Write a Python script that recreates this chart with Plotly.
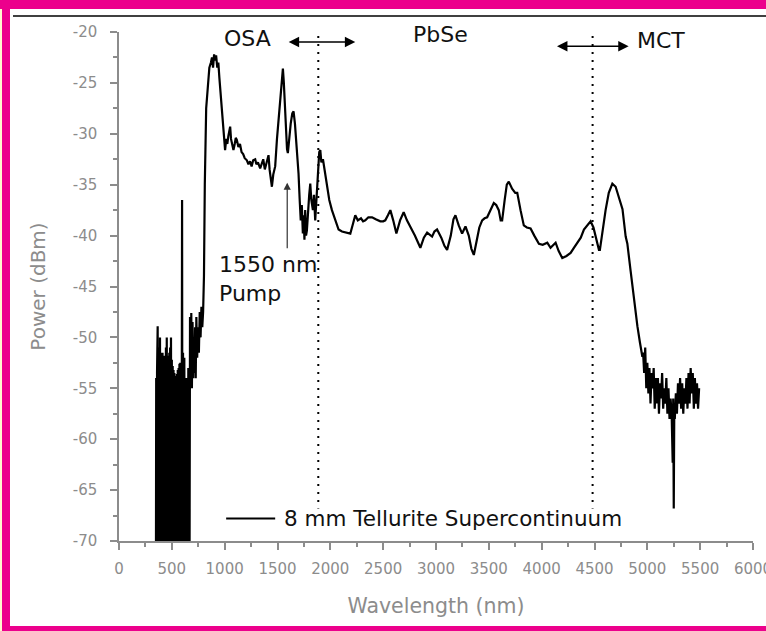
import plotly.graph_objects as go

# ---------------- data ----------------
wavelength_nm = [
    350, 352, 356, 360, 364, 366, 369, 372, 376, 380, 384, 388, 392, 396, 400, 404, 408, 412, 416, 420,
    424, 428, 432, 436, 440, 444, 448, 452, 456, 460, 464, 468, 472, 476, 480, 484, 488, 492, 496, 500,
    504, 508, 512, 516, 520, 524, 528, 532, 536, 540, 544, 548, 552, 556, 560, 564, 568, 572, 576, 580,
    584, 588, 592, 597, 600, 606, 612, 618, 624, 632, 636, 640, 650, 656, 662, 668, 672, 678, 684, 690,
    696, 702, 708, 714, 720, 726, 732, 740, 748, 756, 764, 772, 780, 788, 796, 804, 812, 825, 840, 855,
    870, 880, 890, 900, 910, 919, 930, 940, 950, 960, 973, 985, 995, 1004, 1015, 1025, 1035, 1045, 1052, 1060,
    1070, 1083, 1095, 1105, 1115, 1130, 1145, 1160, 1175, 1190, 1210, 1225, 1240, 1255, 1270, 1289, 1300, 1315, 1336, 1350,
    1365, 1380, 1395, 1415, 1425, 1435, 1447, 1460, 1478, 1495, 1510, 1525, 1540, 1551, 1560, 1570, 1580, 1590, 1598, 1610,
    1625, 1640, 1652, 1665, 1680, 1699, 1710, 1720, 1730, 1740, 1747, 1755, 1762, 1770, 1778, 1790, 1800, 1810, 1820, 1835,
    1845, 1857, 1870, 1880, 1895, 1905, 1915, 1930, 1945, 1968, 1990, 2015, 2045, 2078, 2110, 2150, 2189, 2210, 2236, 2260,
    2290, 2310, 2331, 2360, 2395, 2430, 2473, 2500, 2520, 2545, 2568, 2595, 2625, 2660, 2694, 2725, 2758, 2800, 2852, 2885,
    2916, 2940, 2963, 2985, 3010, 3050, 3080, 3105, 3140, 3165, 3184, 3215, 3247, 3279, 3310, 3335, 3358, 3385, 3410, 3437,
    3460, 3484, 3515, 3547, 3570, 3594, 3612, 3626, 3650, 3670, 3689, 3720, 3750, 3769, 3800, 3831, 3860, 3895, 3930, 3974,
    4010, 4053, 4084, 4110, 4132, 4160, 4195, 4235, 4274, 4305, 4337, 4370, 4400, 4430, 4463, 4490, 4515, 4542, 4551, 4575,
    4605, 4635, 4669, 4700, 4732, 4765, 4795, 4811, 4842, 4858, 4880, 4906, 4930, 4953, 4960, 4970, 4980, 4990, 5000, 5010,
    5020, 5030, 5040, 5050, 5060, 5070, 5080, 5090, 5100, 5110, 5120, 5130, 5140, 5150, 5160, 5170, 5180, 5190, 5200, 5210,
    5220, 5230, 5240, 5245, 5250, 5255, 5260, 5270, 5280, 5290, 5300, 5310, 5320, 5330, 5340, 5350, 5360, 5370, 5380, 5390,
    5400, 5410, 5420, 5430, 5440, 5450, 5460, 5470, 5480, 5490,
]
power_dbm = [
    -70, -54, -70, -53.5, -70, -48.9, -70, -51, -70, -51.5, -70, -50, -70, -51.5, -70, -52, -70, -51.5, -70, -52,
    -70, -51.8, -70, -52.2, -70, -51, -70, -50, -70, -51.8, -70, -52, -70, -51.5, -70, -51, -70, -50, -70, -52.2,
    -70, -52.8, -70, -53.2, -70, -53.5, -70, -53.8, -70, -54, -70, -53.6, -70, -53.2, -70, -53, -70, -52.6, -70, -52.5,
    -70, -52.8, -70, -36.5, -70, -51.5, -70, -52, -70, -70, -54, -70, -70, -53, -70, -70, -48, -55, -47.6, -55,
    -48.5, -54, -50, -53.5, -49, -54, -48, -52, -49, -51.5, -47.5, -50, -47, -49, -47.5, -44, -35, -27.5, -25.5, -23.5,
    -23, -22.5, -23.5, -22.2, -22.8, -22.3, -23.5, -23, -24.5, -26, -27.3, -29.5, -31.2, -31.6, -30.5, -31, -30.2, -29.5, -29.3, -30.5,
    -31, -31.6, -31, -30.4, -30.6, -31.3, -31, -31.8, -32, -32.4, -32.6, -33, -32.7, -33.2, -32.6, -32.5, -33, -32.8, -33.4, -33,
    -32.5, -33.5, -33, -32.1, -33.5, -34.5, -35.2, -34, -33.2, -30.5, -28.5, -27, -24.5, -23.6, -25, -27.5, -30, -31.5, -31.9, -30.5,
    -29, -28, -27.8, -29, -31, -33.9, -36.5, -38.5, -37, -39.8, -38, -40.4, -37.5, -40, -39.5, -37, -36, -34.9, -36.5, -37.5,
    -36, -38.5, -36, -33.5, -31.8, -31.6, -32.8, -32.5, -33.5, -35.5, -36.5, -37.5, -38.5, -39.4, -39.6, -39.7, -39.8, -39, -38, -38.5,
    -38.3, -38.6, -38.5, -38.2, -38.2, -38.4, -38.6, -38.6, -38.5, -38, -37.5, -38.5, -39.8, -38.5, -37.7, -38.5, -39.1, -40, -41.2, -40.2,
    -39.7, -39.9, -40.1, -39.6, -39.4, -40.2, -41, -41.4, -40, -38.4, -38, -39, -39.8, -39.1, -40, -41.3, -41.9, -40.5, -39.2, -38.5,
    -38.3, -38.2, -37.5, -36.8, -37, -37.5, -38.5, -38.5, -36.5, -35, -34.7, -35.4, -35.8, -35.8, -37.5, -39, -39.2, -39.3, -40, -40.8,
    -40.9, -40.7, -41.2, -40.9, -40.7, -41.5, -42.2, -42, -41.7, -41.2, -40.7, -40.2, -39.4, -39, -38.6, -39.2, -40.3, -41.4, -41.4, -39.5,
    -37.5, -35.8, -34.9, -35.2, -36.2, -37.4, -40.1, -40.8, -43.5, -45, -47, -48.9, -50.5, -51.9, -51.5, -53.5, -51, -55, -52.5, -55.5,
    -53, -56.5, -53.5, -55, -53, -57, -54, -56.5, -54, -57.5, -54.5, -56, -53.5, -57, -55, -56.5, -54, -57.5, -55, -58,
    -56, -57.5, -62.3, -56, -66.8, -57, -58, -55.5, -57.5, -54.5, -56.5, -54, -57, -54.5, -57.5, -55, -56.5, -54, -57, -53.5,
    -56.5, -53, -55.5, -53.5, -57, -54, -56.5, -54.5, -57, -55,
]

x_tick_vals = [0, 500, 1000, 1500, 2000, 2500, 3000, 3500, 4000, 4500, 5000, 5500, 6000]
x_tick_text = ["0", "500", "1000", "1500", "2000", "2500", "3000", "3500", "4000", "4500", "5000", "5500", "6000"]
y_tick_vals = [-20, -25, -30, -35, -40, -45, -50, -55, -60, -65, -70]
y_tick_text = ["-20", "-25", "-30", "-35", "-40", "-45", "-50", "-55", "-60", "-65", "-70"]

region_lines_nm = [1886, 4482]
legend_label = "8 mm Tellurite Supercontinuum"

# ---------------- figure ----------------
W, H = 766, 631
ML, MR, MT, MB = 119, 13, 32, 90
PW, PH = W - ML - MR, H - MT - MB


def px(xp):
    return (xp - ML) / PW


def py(yp):
    return (H - MB - yp) / PH


GREY = "#8c8c8c"
FONT = "DejaVu Sans, Liberation Sans, sans-serif"
MAGENTA = "#ec008c"
TXT = "#111111"

fig = go.Figure()
fig.add_trace(go.Scatter(x=wavelength_nm, y=power_dbm, mode="lines",
                         line=dict(color="black", width=2.2), showlegend=False,
                         hoverinfo="skip"))

shapes = []
for xv in region_lines_nm:
    shapes.append(dict(type="line", xref="x", yref="y", x0=xv, x1=xv, y0=-19.6, y1=-66.8,
                       line=dict(color="black", width=2, dash="2px,6px")))
# legend sample line
shapes.append(dict(type="line", xref="x", yref="y", x0=1014, x1=1478, y0=-67.8, y1=-67.8,
                   line=dict(color="black", width=2)))
# page frame
shapes.append(dict(type="rect", xref="paper", yref="paper", x0=px(-5), x1=px(W + 5), y0=py(9), y1=py(-5),
                   fillcolor=MAGENTA, line=dict(width=0), layer="above"))
shapes.append(dict(type="rect", xref="paper", yref="paper", x0=px(2), x1=px(10), y0=py(H + 5), y1=py(-5),
                   fillcolor=MAGENTA, line=dict(width=0), layer="above"))
shapes.append(dict(type="rect", xref="paper", yref="paper", x0=px(-5), x1=px(2), y0=py(H + 5), y1=py(9),
                   fillcolor="#fff8d0", line=dict(width=0), layer="above"))
shapes.append(dict(type="rect", xref="paper", yref="paper", x0=px(2), x1=px(W + 5), y0=py(H + 5), y1=py(626),
                   fillcolor=MAGENTA, line=dict(width=0), layer="above"))
shapes.append(dict(type="line", xref="paper", yref="paper", x0=px(13), x1=px(W + 5), y0=py(16), y1=py(16),
                   line=dict(color="black", width=1.5)))

annotations = [
    dict(x=1213, y=-20.6, text="OSA", showarrow=False, font=dict(size=22, color=TXT, family=FONT)),
    dict(x=3042, y=-20.2, text="PbSe", showarrow=False, font=dict(size=22, color=TXT, family=FONT)),
    dict(x=5127, y=-20.8, text="MCT", showarrow=False, font=dict(size=22, color=TXT, family=FONT)),
    dict(x=2236, y=-20.98, ax=1592, ay=-20.98, axref="x", ayref="y", text="", showarrow=True,
         arrowhead=2, arrowside="end+start", arrowsize=1.3, arrowwidth=1.6, arrowcolor="black"),
    dict(x=4823, y=-21.4, ax=4131, ay=-21.4, axref="x", ayref="y", text="", showarrow=True,
         arrowhead=2, arrowside="end+start", arrowsize=1.3, arrowwidth=1.6, arrowcolor="black"),
    dict(x=1592, y=-34.8, ax=1592, ay=-41.4, axref="x", ayref="y", text="", showarrow=True,
         arrowhead=2, arrowsize=1.2, arrowwidth=1.2, arrowcolor="#333"),
    dict(x=929, y=-44.3, text="1550 nm<br>Pump", showarrow=False, xanchor="left", align="left",
         font=dict(size=22, color=TXT, family=FONT)),
    dict(x=1545, y=-67.8, text=legend_label, showarrow=False, xanchor="left",
         font=dict(size=21.5, color=TXT, family=FONT)),
]

fig.update_layout(
    width=W, height=H,
    margin=dict(l=ML, r=MR, t=MT, b=MB, autoexpand=False),
    paper_bgcolor="white", plot_bgcolor="white",
    shapes=shapes, annotations=annotations,
    font=dict(family=FONT, color=GREY),
)
fig.update_xaxes(range=[0, 6000], tickvals=x_tick_vals, ticktext=x_tick_text, automargin=False,
                 showgrid=False, zeroline=False, showline=True, linecolor=GREY, linewidth=1.5,
                 ticks="outside", ticklen=7, tickwidth=1.5, tickcolor=GREY,
                 minor=dict(dtick=250, ticks="outside", ticklen=4, tickcolor=GREY, tickwidth=1.5),
                 tickfont=dict(size=15, color=GREY, family=FONT), ticklabelstandoff=6,
                 ticklabeloverflow="allow",
                 title=dict(text="Wavelength (nm)", font=dict(size=20.5, color=GREY, family=FONT), standoff=22))
fig.update_yaxes(range=[-70, -20], tickvals=y_tick_vals, ticktext=y_tick_text, automargin=False,
                 showgrid=False, zeroline=False, showline=True, linecolor=GREY, linewidth=1.5,
                 ticks="outside", ticklen=7, tickwidth=1.5, tickcolor=GREY,
                 minor=dict(dtick=2.5, ticks="outside", ticklen=4, tickcolor=GREY, tickwidth=1.5),
                 tickfont=dict(size=15, color=GREY, family=FONT), ticklabelstandoff=10,
                 ticklabeloverflow="allow",
                 title=dict(text="Power (dBm)", font=dict(size=20, color=GREY, family=FONT), standoff=22))

fig.write_html("out.html")
